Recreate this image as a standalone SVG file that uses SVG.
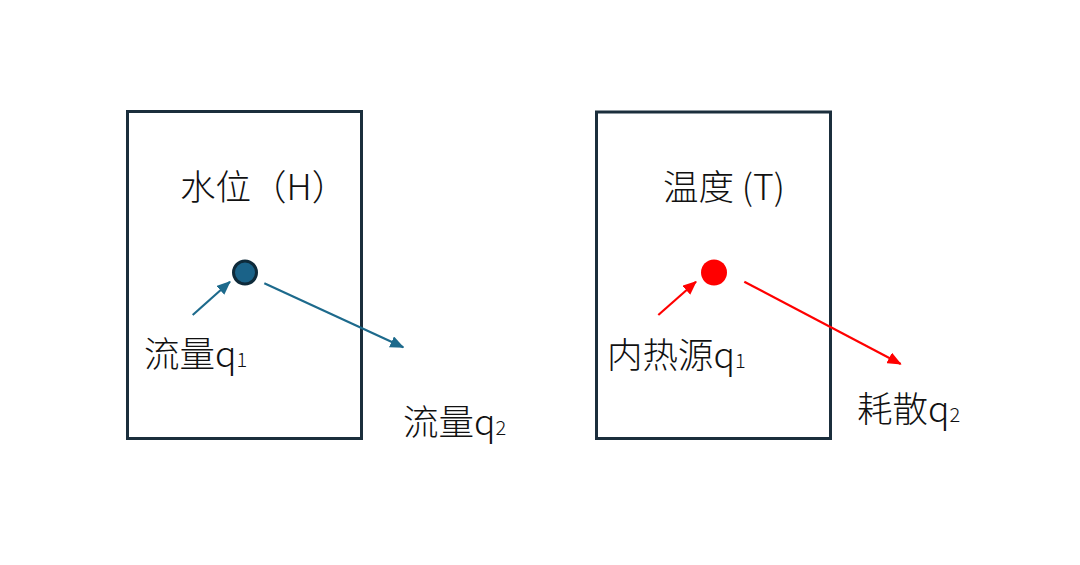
<svg xmlns="http://www.w3.org/2000/svg" width="1080" height="565" viewBox="0 0 1080 565">
  <style>
    .box { fill: #ffffff; stroke: #1b2e3c; stroke-width: 3; }
    .lbl { font-family: "Noto Sans CJK SC", "Noto Sans", sans-serif; font-size: 35.5px; font-weight: 300; fill: #111111; }
    .sub { font-size: 20px; }
    .blue { stroke: #1d6a8c; stroke-width: 2.2; fill: none; }
    .red { stroke: #ff0000; stroke-width: 2.2; fill: none; }
  </style>
  <defs>
    <marker id="ab" markerUnits="userSpaceOnUse" markerWidth="14" markerHeight="12" refX="13" refY="6" orient="auto">
      <path d="M0,0 L14,6 L0,12 Z" fill="#1d6a8c"/>
    </marker>
    <marker id="ar" markerUnits="userSpaceOnUse" markerWidth="14" markerHeight="12" refX="13" refY="6" orient="auto">
      <path d="M0,0 L14,6 L0,12 Z" fill="#ff0000"/>
    </marker>
  </defs>
  <rect width="1080" height="565" fill="#ffffff"/>

  <g id="water-box">
    <rect class="box" x="127.5" y="111.5" width="234" height="327"/>
    <text class="lbl" x="180" y="200">水位（H）</text>
  </g>
  <g id="water-node">
    <circle cx="245" cy="272.5" r="11.5" fill="#1a6288" stroke="#0e2a3a" stroke-width="3"/>
  </g>
  <g id="water-q1">
    <text class="lbl" x="144" y="367">流量q<tspan class="sub">1</tspan></text>
  </g>
  <g id="water-q2">
    <text class="lbl" x="403" y="435">流量q<tspan class="sub">2</tspan></text>
  </g>

  <g id="temp-box">
    <rect class="box" x="596.5" y="112" width="234" height="326.5"/>
    <text class="lbl" x="663" y="200">温度 (T)</text>
  </g>
  <g id="temp-node">
    <circle cx="714" cy="272.5" r="13" fill="#ff0000"/>
  </g>
  <g id="temp-q1">
    <text class="lbl" x="607" y="368">内热源q<tspan class="sub">1</tspan></text>
  </g>
  <g id="temp-q2">
    <text class="lbl" x="857" y="422">耗散q<tspan class="sub">2</tspan></text>
  </g>

  <g id="connectors">
    <line class="blue" x1="192.7" y1="315" x2="230" y2="281.7" marker-end="url(#ab)"/>
    <line class="blue" x1="264.3" y1="283.3" x2="403.3" y2="347.3" marker-end="url(#ab)"/>
    <line class="red" x1="658.3" y1="315" x2="696" y2="281.7" marker-end="url(#ar)"/>
    <line class="red" x1="744.3" y1="281.7" x2="900.7" y2="364" marker-end="url(#ar)"/>
  </g>
</svg>
